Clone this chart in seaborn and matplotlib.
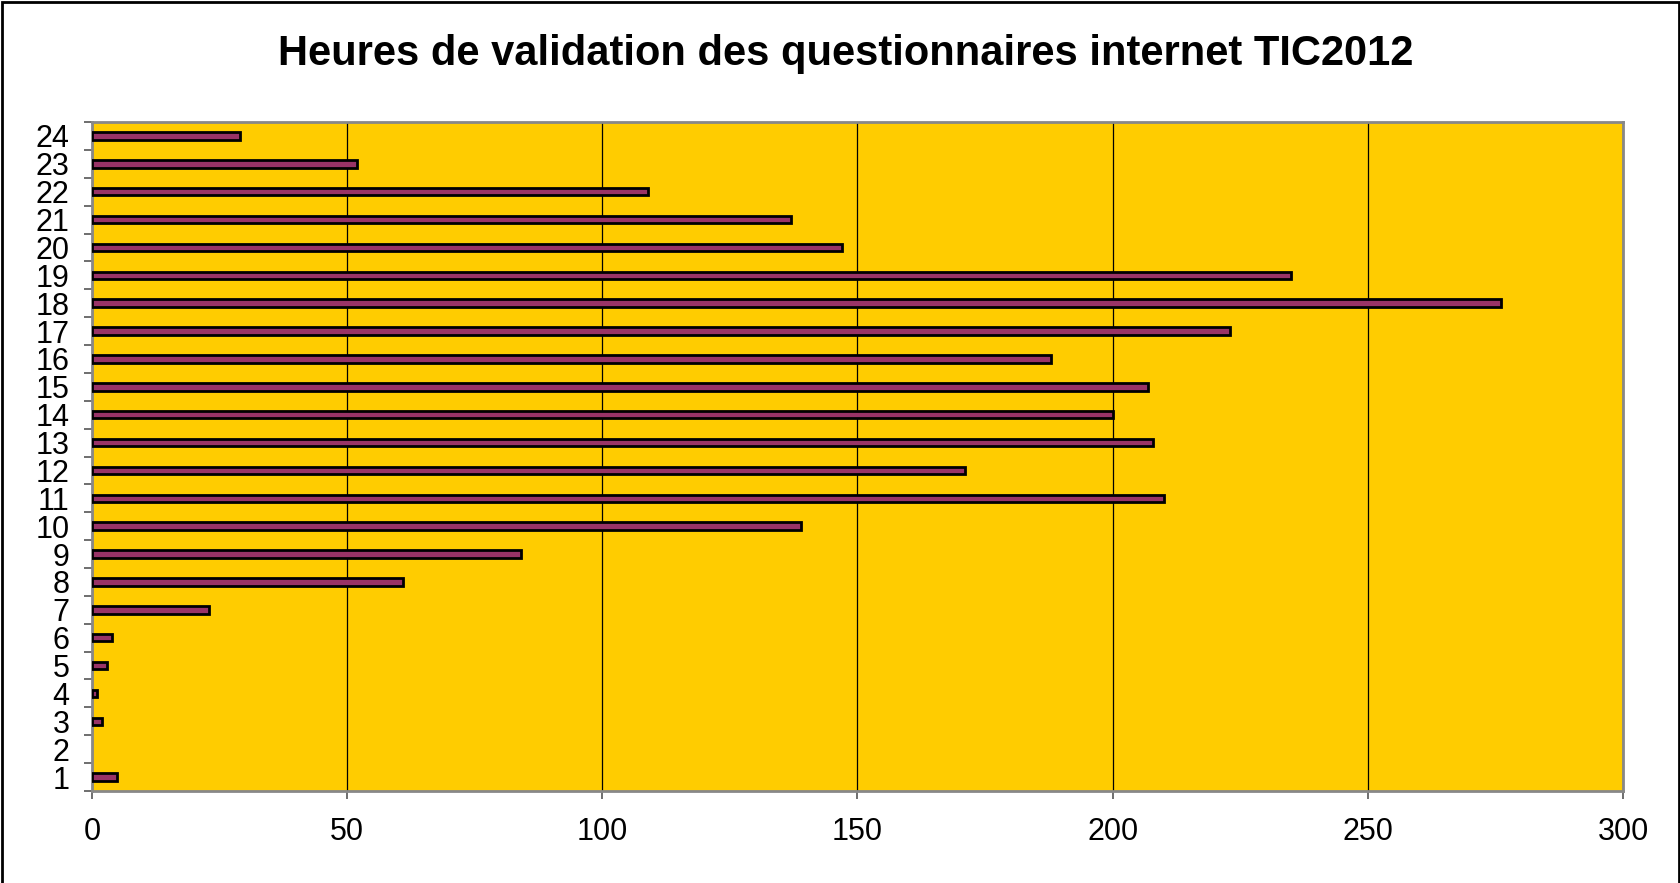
import matplotlib
matplotlib.use('Agg')
import matplotlib.pyplot as plt
import seaborn as sns
import pandas as pd
from matplotlib.patches import Rectangle
from matplotlib.ticker import FixedLocator

heures = ['24', '23', '22', '21', '20', '19', '18', '17', '16', '15', '14', '13',
          '12', '11', '10', '9', '8', '7', '6', '5', '4', '3', '2', '1']
nb_questionnaires = [29, 52, 109, 137, 147, 235, 276, 223, 188, 207, 200, 208,
                     171, 210, 139, 84, 61, 23, 4, 3, 1, 2, 0, 5]
x_ticks = [0, 50, 100, 150, 200, 250, 300]

titre = 'Heures de validation des questionnaires internet TIC2012'

df = pd.DataFrame({'heure': heures, 'nb': nb_questionnaires})

sns.set_style('white')
plt.rcParams['font.family'] = ['Liberation Sans', 'DejaVu Sans']

fig = plt.figure(figsize=(16.81, 8.83), dpi=100)
ax = fig.add_axes([0.0547, 0.1042, 0.9108, 0.7576])
ax.set_facecolor('#FFCC00')

sns.barplot(data=df, x='nb', y='heure', order=heures, orient='h',
            color='#993366', saturation=1, width=0.27,
            edgecolor='black', linewidth=2, ax=ax, zorder=3)

# hour 2 has no answers: no mark at all
for p in ax.patches:
    if p.get_width() == 0:
        p.set_visible(False)

ax.set_xlim(0, 300)
ax.set_xticks(x_ticks)
ax.set_xticklabels([str(v) for v in x_ticks])
ax.xaxis.grid(True, color='black', linewidth=0.9)
ax.yaxis.grid(False)
ax.set_axisbelow(True)

# category labels centred, tick marks on the boundaries
ax.tick_params(axis='y', which='major', length=0, pad=16, labelsize=22,
               labelcolor='black')
ax.yaxis.set_minor_locator(FixedLocator([i - 0.5 for i in range(len(heures) + 1)]))
ax.tick_params(axis='y', which='minor', left=True, length=6, width=1.2, color='#555555')
ax.tick_params(axis='x', which='major', bottom=True, length=6, width=1.2,
               color='#555555', pad=13, labelsize=22, labelcolor='black')

for s in ax.spines.values():
    s.set_color('#888888')
    s.set_linewidth(2)
    s.set_visible(True)

ax.set_xlabel('')
ax.set_ylabel('')

fig.text(0.503, 0.939, titre, ha='center', va='center', fontsize=30,
         fontweight='bold', color='black')

fig.patches.append(Rectangle((0.001, -0.01), 0.998, 1.008, transform=fig.transFigure,
                             fill=False, edgecolor='black', linewidth=2))

fig.savefig('out.png', dpi=100)
